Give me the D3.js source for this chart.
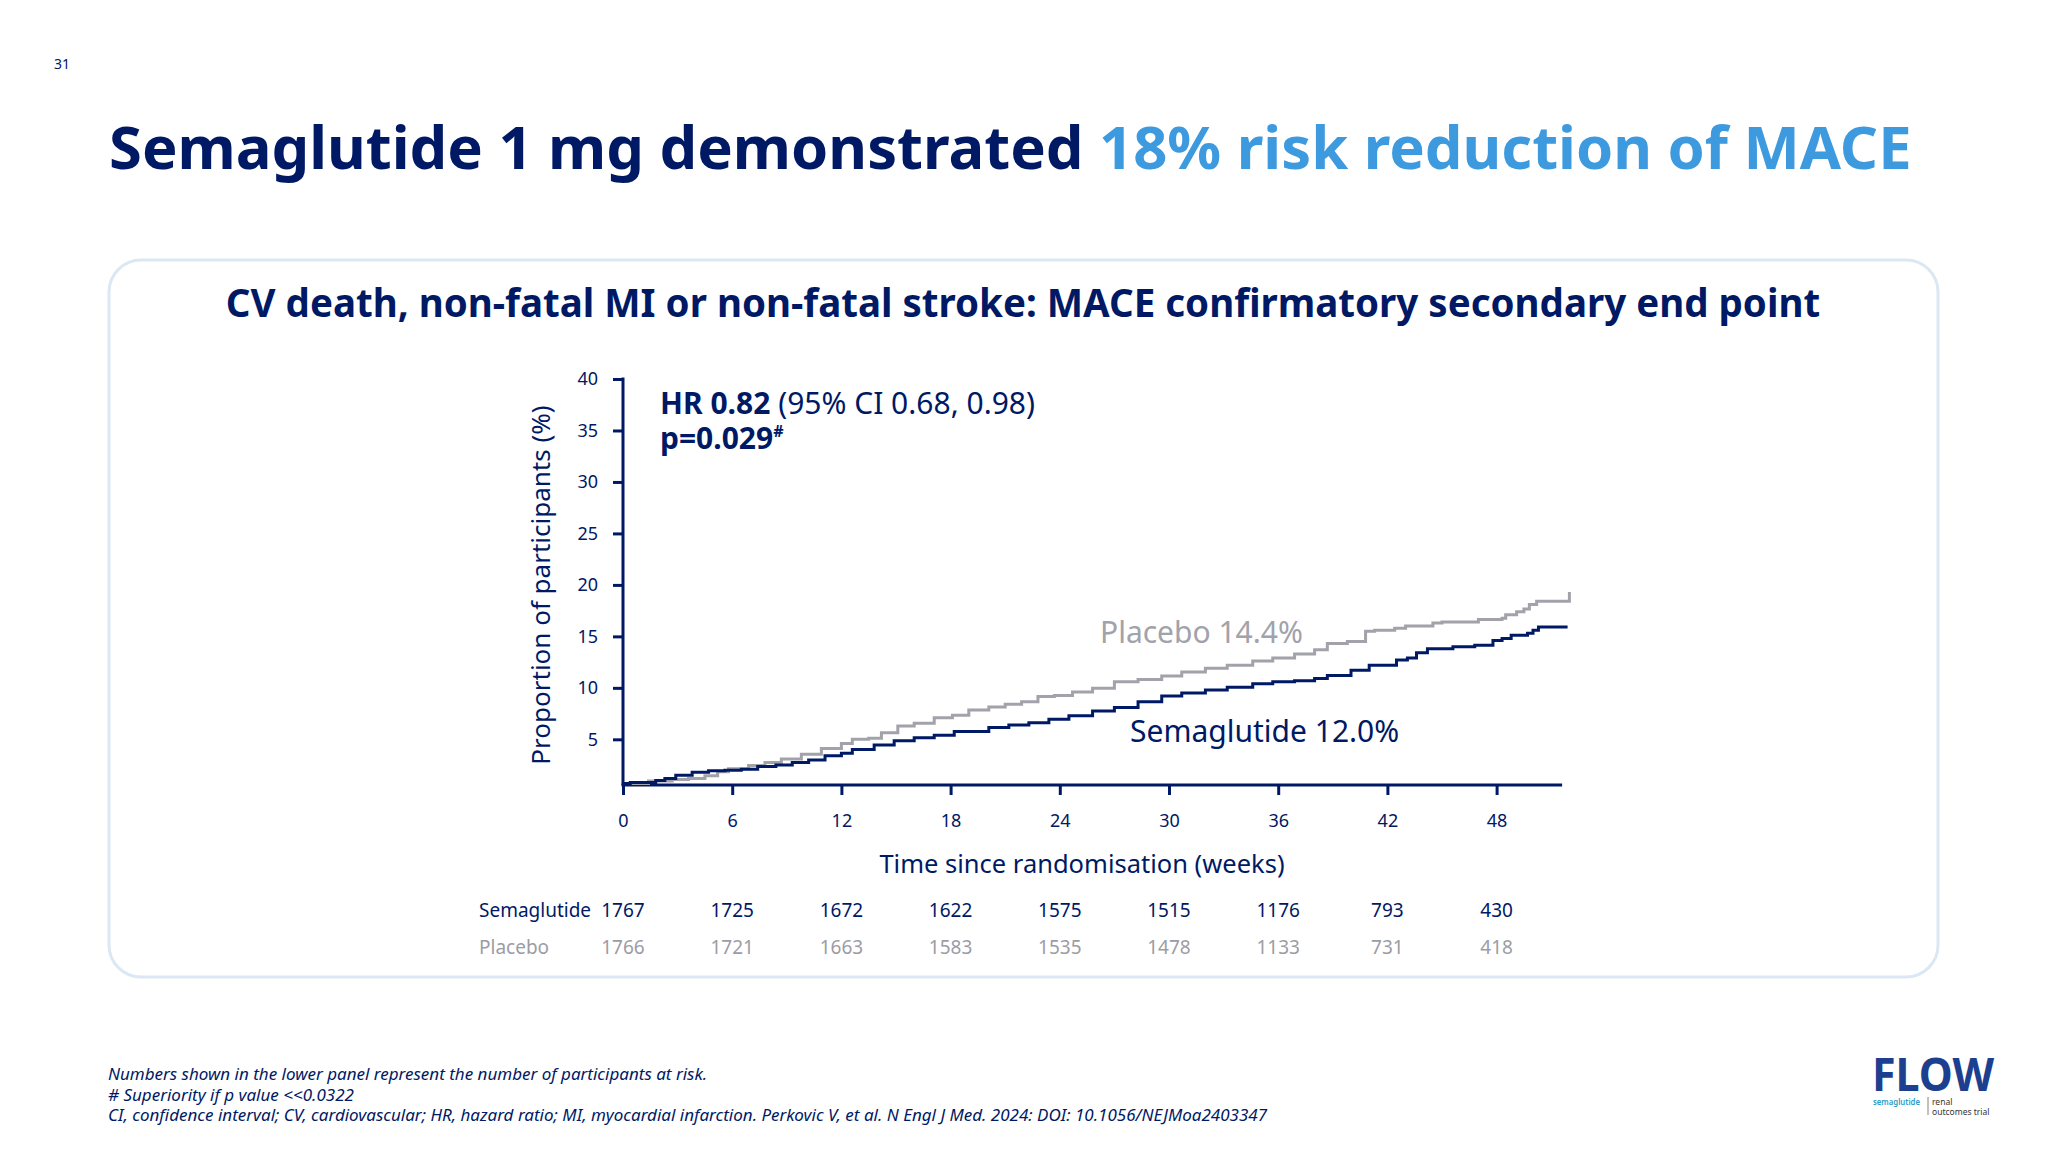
<!DOCTYPE html>
<html><head><meta charset="utf-8">
<script src="https://cdn.jsdelivr.net/npm/d3@7"></script>
<style>
body{margin:0;background:#fff}
svg{display:block}
text{font-family:"Noto Sans",sans-serif}
</style>
</head><body>
<svg id="c" width="2048" height="1152"></svg>
<script>
// ---------- data ----------
const weekTicks = [0, 6, 12, 18, 24, 30, 36, 42, 48];
const yTicks = [5, 10, 15, 20, 25, 30, 35, 40];
const atRiskSema = [1767, 1725, 1672, 1622, 1575, 1515, 1176, 793, 430];
const atRiskPlac = [1766, 1721, 1663, 1583, 1535, 1478, 1133, 731, 418];

const semaWeeks = [0, 0.4, 1.8, 2.3, 2.9, 3.8, 4.7, 5.6, 6.5, 7.4, 8.4, 9.3, 10.2, 11.1, 12.0, 12.6, 13.8, 14.9, 16.0, 17.1, 18.2, 20.1, 21.2, 22.3, 23.4, 24.5, 25.8, 27.0, 28.3, 29.6, 30.7, 32.0, 33.2, 34.6, 35.7, 36.9, 38.0, 38.7, 40.0, 41.0, 42.5, 43.1, 43.6, 44.2, 45.6, 46.8, 47.8, 48.3, 48.8, 49.7, 50.0, 50.3, 51.9];
const semaPct   = [0.7, 0.8, 1.0, 1.2, 1.5, 1.8, 1.95, 2.0, 2.1, 2.35, 2.5, 2.75, 3.0, 3.4, 3.65, 4.0, 4.45, 4.85, 5.15, 5.4, 5.75, 6.15, 6.4, 6.6, 6.95, 7.3, 7.75, 8.1, 8.65, 9.2, 9.5, 9.8, 10.05, 10.4, 10.6, 10.7, 10.9, 11.2, 11.7, 12.2, 12.7, 12.9, 13.4, 13.8, 14.0, 14.15, 14.6, 14.8, 15.1, 15.3, 15.6, 15.9, 15.9];

const placWeeks = [0, 1.4, 2.7, 3.6, 4.5, 5.2, 5.8, 6.9, 7.8, 8.7, 9.8, 10.9, 12.0, 12.6, 13.5, 14.2, 15.1, 16.0, 17.1, 18.1, 19.0, 20.1, 21.0, 21.9, 22.8, 23.7, 24.7, 25.8, 27.0, 28.3, 29.6, 30.7, 32.0, 33.2, 34.6, 35.7, 36.9, 38.0, 38.7, 39.8, 40.8, 41.3, 42.4, 43.0, 44.5, 45.0, 47.0, 48.3, 48.5, 49.1, 49.5, 49.8, 50.2, 51.9, 52.0];
const placPct   = [0.7, 0.95, 1.1, 1.2, 1.45, 1.85, 2.15, 2.45, 2.75, 3.1, 3.55, 4.1, 4.6, 5.0, 5.1, 5.65, 6.3, 6.55, 7.1, 7.35, 7.85, 8.15, 8.4, 8.65, 9.15, 9.25, 9.6, 9.95, 10.6, 10.8, 11.15, 11.55, 11.9, 12.2, 12.6, 12.9, 13.3, 13.7, 14.3, 14.5, 15.5, 15.6, 15.8, 16.0, 16.3, 16.4, 16.65, 16.75, 17.1, 17.4, 17.65, 18.1, 18.4, 18.4, 19.3];

const titleDark = "Semaglutide 1 mg demonstrated ";
const titleLight = "18% risk reduction of MACE";
const panelTitle = "CV death, non-fatal MI or non-fatal stroke: MACE confirmatory secondary end point";
const footnotes = [
  "Numbers shown in the lower panel represent the number of participants at risk.",
  "# Superiority if p value <<0.0322",
  "CI, confidence interval; CV, cardiovascular; HR, hazard ratio; MI, myocardial infarction. Perkovic V, et al. N Engl J Med. 2024: DOI: 10.1056/NEJMoa2403347"
];

// ---------- style ----------
const NAVY = "#001965", BLUE = "#3d9ade", GREY = "#a2a2aa", GREYTXT = "#9c9ca4", CARD = "#dbe8f4";

const svg = d3.select("#c");
svg.append("rect").attr("width", 2048).attr("height", 1152).attr("fill", "#fff");

// page number
svg.append("text").attr("x", 54).attr("y", 69).attr("font-size", 14).attr("fill", NAVY).text("31");

// main title
const t = svg.append("text").attr("x", 109).attr("y", 169).attr("font-size", 59.7).attr("font-weight", 700);
t.append("tspan").attr("fill", NAVY).text(titleDark);
t.append("tspan").attr("fill", BLUE).text(titleLight);

// card
svg.append("rect").attr("x", 109).attr("y", 260).attr("width", 1829).attr("height", 717)
  .attr("rx", 32).attr("fill", "#fff").attr("stroke", CARD).attr("stroke-width", 3);

svg.append("text").attr("x", 1023).attr("y", 317).attr("text-anchor", "middle")
  .attr("font-size", 38.5).attr("font-weight", 700).attr("fill", NAVY).text(panelTitle);

// ---------- scales ----------
const x = d3.scaleLinear().domain([0, 52]).range([623, 623 + 52 * 18.2]);
const y = d3.scaleLinear().domain([0, 40]).range([790.8, 379]);
const axisY = 785, xAxisEnd = 51.6;

// y axis
const gy = svg.append("g").attr("transform", "translate(623,0)")
  .call(d3.axisLeft(y).tickValues(yTicks).tickSize(10).tickPadding(15));
gy.select(".domain").remove();
gy.selectAll(".tick line").attr("stroke", NAVY).attr("stroke-width", 3);
gy.selectAll(".tick text").attr("fill", NAVY).attr("font-size", 18).attr("font-family", "Noto Sans");
svg.append("line").attr("x1", 623).attr("x2", 623).attr("y1", y(40) - 1.5).attr("y2", axisY)
  .attr("stroke", NAVY).attr("stroke-width", 3);

// x axis
const gx = svg.append("g").attr("transform", `translate(0,${axisY})`)
  .call(d3.axisBottom(x).tickValues(weekTicks).tickSize(10).tickPadding(19));
gx.select(".domain").remove();
gx.selectAll(".tick line").attr("stroke", NAVY).attr("stroke-width", 3);
gx.selectAll(".tick text").attr("fill", NAVY).attr("font-size", 18).attr("font-family", "Noto Sans");
svg.append("line").attr("x1", x(0) - 1.5).attr("x2", x(xAxisEnd)).attr("y1", axisY).attr("y2", axisY)
  .attr("stroke", NAVY).attr("stroke-width", 3);

// axis titles
svg.append("text").attr("transform", "translate(550,585) rotate(-90)").attr("text-anchor", "middle")
  .attr("font-size", 26).attr("fill", NAVY).text("Proportion of participants (%)");
svg.append("text").attr("x", 1082).attr("y", 873).attr("text-anchor", "middle")
  .attr("font-size", 25.5).attr("fill", NAVY).text("Time since randomisation (weeks)");

// curves
const line = d3.line().x(d => x(d[0])).y(d => y(d[1])).curve(d3.curveStepAfter);
svg.append("path").datum(placWeeks.map((w, i) => [w, placPct[i]]))
  .attr("d", line).attr("fill", "none").attr("stroke", GREY).attr("stroke-width", 3);
svg.append("path").datum(semaWeeks.map((w, i) => [w, semaPct[i]]))
  .attr("d", line).attr("fill", "none").attr("stroke", NAVY).attr("stroke-width", 3);

// curve labels
svg.append("text").attr("x", 1100).attr("y", 643).attr("font-size", 30).attr("fill", GREY).text("Placebo 14.4%");
svg.append("text").attr("x", 1130).attr("y", 742).attr("font-size", 30).attr("fill", NAVY).text("Semaglutide 12.0%");

// HR annotation
const hr = svg.append("text").attr("x", 660).attr("y", 414).attr("font-size", 30).attr("fill", NAVY);
hr.append("tspan").attr("font-weight", 700).text("HR 0.82");
hr.append("tspan").text(" (95% CI 0.68, 0.98)");
const pv = svg.append("text").attr("x", 660).attr("y", 449).attr("font-size", 30).attr("fill", NAVY).attr("font-weight", 700);
pv.append("tspan").text("p=0.029");
pv.append("tspan").attr("font-size", 16).attr("dy", -12).text("#");

// at-risk table
svg.append("text").attr("x", 479).attr("y", 917).attr("font-size", 19).attr("fill", NAVY).text("Semaglutide");
svg.append("text").attr("x", 479).attr("y", 954).attr("font-size", 19).attr("fill", GREYTXT).text("Placebo");
svg.selectAll(".rs").data(atRiskSema).enter().append("text")
  .attr("x", (d, i) => x(weekTicks[i])).attr("y", 917).attr("text-anchor", "middle")
  .attr("font-size", 19).attr("fill", NAVY).text(d => d);
svg.selectAll(".rp").data(atRiskPlac).enter().append("text")
  .attr("x", (d, i) => x(weekTicks[i])).attr("y", 954).attr("text-anchor", "middle")
  .attr("font-size", 19).attr("fill", GREYTXT).text(d => d);

// footnotes
footnotes.forEach((f, i) => {
  svg.append("text").attr("x", 108).attr("y", 1080 + i * 20.5).attr("font-size", 17)
    .attr("font-style", "italic").attr("fill", NAVY).text(f);
});

// logo
svg.append("text").attr("x", 1872).attr("y", 1091).attr("font-size", 46).attr("font-weight", 700)
  .attr("fill", "#1d3f8f").attr("textLength", 122).attr("lengthAdjust", "spacingAndGlyphs").text("FLOW");
svg.append("text").attr("x", 1873).attr("y", 1105).attr("font-size", 8.5).attr("font-weight", 600).attr("fill", "#2d9cc8")
  .attr("textLength", 47).attr("lengthAdjust", "spacingAndGlyphs").text("semaglutide");
svg.append("line").attr("x1", 1928).attr("x2", 1928).attr("y1", 1097).attr("y2", 1115).attr("stroke", "#666").attr("stroke-width", 0.8);
svg.append("text").attr("x", 1932).attr("y", 1105).attr("font-size", 8.5).attr("fill", "#333").text("renal");
svg.append("text").attr("x", 1932).attr("y", 1115).attr("font-size", 8.5).attr("fill", "#333").text("outcomes trial");
</script>
</body></html>
